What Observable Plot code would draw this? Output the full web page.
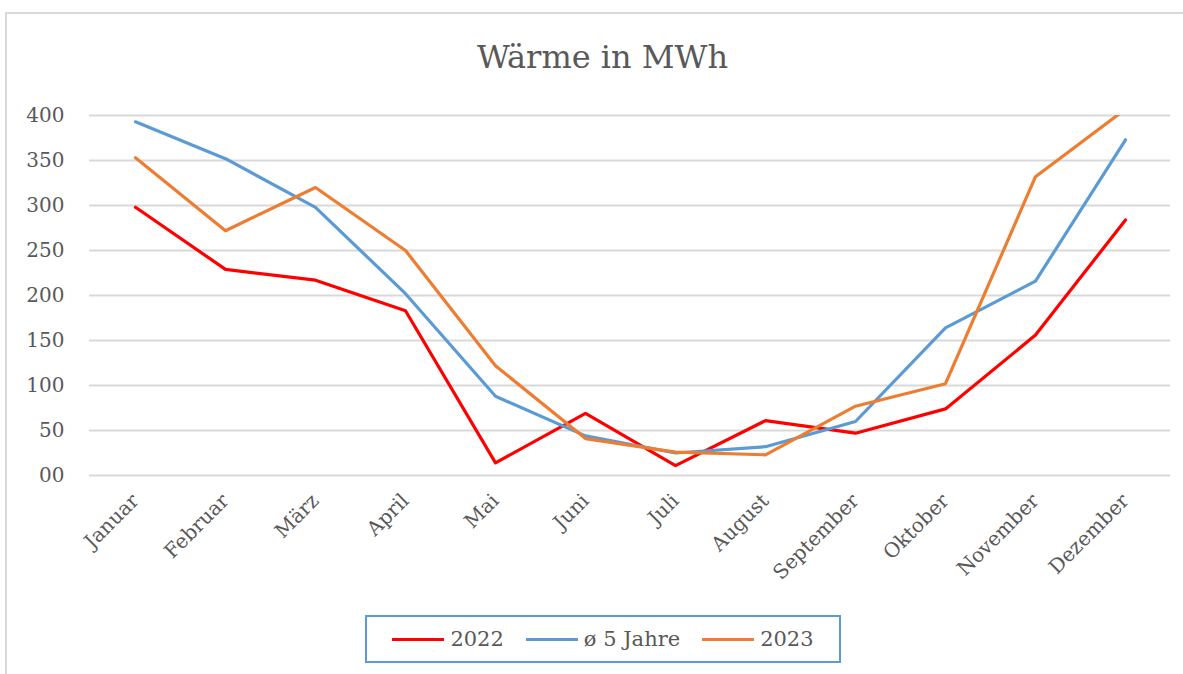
<!DOCTYPE html>
<html>
<head>
<meta charset="utf-8">
<script src="https://cdn.jsdelivr.net/npm/d3@7"></script>
<script src="https://cdn.jsdelivr.net/npm/@observablehq/plot@0.6"></script>
<style>
  html, body { margin: 0; padding: 0; background: #fff; }
  #wrap { position: relative; width: 1183px; height: 674px; overflow: hidden; font-family: "DejaVu Serif", serif; color: #595959; }
  #frame { position: absolute; left: 5px; top: 12px; width: 1300px; height: 800px; border-left: 2px solid #d9d9d9; border-top: 2px solid #d9d9d9; }
  #title { position: absolute; left: 0; width: 1205px; top: 38px; text-align: center; font-size: 32px; color: #595959; }
  #chart { position: absolute; left: 0; top: 0; }
  #legend { position: absolute; left: 365px; top: 615px; width: 472px; height: 44px; border: 2px solid #5B9BD5; box-sizing: content-box; display: flex; align-items: center; justify-content: center; gap: 22px; font-size: 21px; color: #595959; }
  .item { display: flex; align-items: center; }
  .sw { display: inline-block; width: 52px; height: 3px; margin-right: 6px; }
</style>
</head>
<body>
<div id="wrap">
  <div id="frame"></div>
  <div id="chart"></div>
  <div id="title">Wärme in MWh</div>
  <div id="legend"></div>
</div>
<script>
const months = ["Januar","Februar","März","April","Mai","Juni","Juli","August","September","Oktober","November","Dezember"];
const seriesNames = ["2022", "ø 5 Jahre", "2023"];
const seriesColors = ["#FF0000", "#5B9BD5", "#ED7D31"];
const values2022 = [298, 229, 217, 183, 14, 69, 11, 61, 47, 74, 156, 284];
const values5Jahre = [393, 352, 298, 202, 88, 44, 25, 32, 60, 164, 216, 373];
const values2023 = [353, 272, 320, 250, 122, 41, 26, 23, 77, 102, 332, 407];
const yTicks = [0, 50, 100, 150, 200, 250, 300, 350, 400];

const allSeries = [values2022, values5Jahre, values2023];
const data = [];
allSeries.forEach((vals, si) => vals.forEach((v, i) => data.push({month: months[i], value: v, series: seriesNames[si]})));

const chart = Plot.plot({
  width: 1183,
  height: 610,
  marginLeft: 89,
  marginRight: 13,
  marginTop: 115,
  marginBottom: 135,
  style: { fontFamily: "DejaVu Serif, serif", fontSize: "20px", color: "#595959", background: "transparent" },
  x: { type: "point", domain: months, padding: 0.5, label: null, tickSize: 0, tickPadding: 22, tickRotate: -45 },
  y: { domain: [0, 400], ticks: yTicks, label: null, tickSize: 0, tickPadding: 25, tickFormat: d => d === 0 ? "00" : String(d) },
  color: { domain: seriesNames, range: seriesColors },
  marks: [
    Plot.gridY(yTicks, { stroke: "#d9d9d9", strokeOpacity: 1, strokeWidth: 2 }),
    Plot.line(data, { x: "month", y: "value", z: "series", stroke: "series", strokeWidth: 3.2, strokeLinejoin: "round", strokeLinecap: "round", clip: true })
  ]
});
document.getElementById("chart").appendChild(chart);

const legend = document.getElementById("legend");
seriesNames.forEach((name, i) => {
  const it = document.createElement("div");
  it.className = "item";
  const sw = document.createElement("span");
  sw.className = "sw";
  sw.style.background = seriesColors[i];
  it.appendChild(sw);
  const t = document.createElement("span");
  t.textContent = name;
  it.appendChild(t);
  legend.appendChild(it);
});
</script>
</body>
</html>
